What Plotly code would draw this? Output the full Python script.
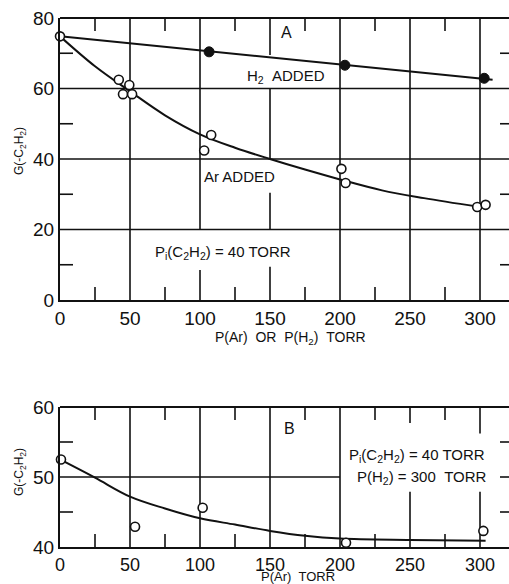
import plotly.graph_objects as go

# ---- Panel A: G(-C2H2) vs added gas pressure, P_i(C2H2) = 40 torr ----
ar_p = [0, 42, 45, 49.5, 51.5, 103, 108, 201, 204, 298, 304]
ar_g = [74.8, 62.5, 58.4, 61.0, 58.4, 42.4, 46.8, 37.2, 33.2, 26.4, 27.0]

h2_p = [106.5, 203.5, 303]
h2_g = [70.4, 66.6, 62.9]

# hand-drawn smooth curve through the Ar points
ar_fit_p = [0, 25, 50, 75, 100, 125, 150, 175, 200, 230, 260, 298]
ar_fit_g = [74.8, 66.3, 59.2, 52.4, 47.0, 43.2, 40.0, 37.0, 34.2, 31.1, 28.9, 26.5]

# straight line through the H2 points
h2_fit_p = [0, 309]
h2_fit_g = [74.8, 62.5]

# ---- Panel B: G(-C2H2) vs P(Ar) with P(H2) = 300 torr ----
b_p = [0.7, 53.6, 101.9, 204.3, 302.4]
b_g = [52.5, 42.9, 45.6, 40.6, 42.3]

b_fit_p = [0, 25, 50, 75, 100, 125, 150, 175, 200, 250, 304]
b_fit_g = [52.5, 49.9, 47.2, 45.5, 44.1, 43.2, 42.3, 41.6, 41.2, 41.0, 40.9]

x_ticks = [0, 50, 100, 150, 200, 250, 300]
a_y_ticks = [0, 20, 40, 60, 80]
b_y_ticks = [40, 50, 60]

W, H = 509, 584
INK = "#111111"
FONT = "Liberation Sans, Arial, sans-serif"
X_RANGE = [0, (W - 60) / 1.4]


def px(p):
    return p / W


def py(p):
    return 1 - p / H


fig = go.Figure()

open_marker = dict(symbol="circle", size=9, color="white", line=dict(color=INK, width=1.6))
solid_marker = dict(symbol="circle", size=10, color=INK, line=dict(color=INK, width=1))

fig.add_trace(go.Scatter(x=ar_fit_p, y=ar_fit_g, mode="lines", line=dict(color=INK, width=2, shape="spline"),
                         xaxis="x", yaxis="y", hoverinfo="skip"))
fig.add_trace(go.Scatter(x=h2_fit_p, y=h2_fit_g, mode="lines", line=dict(color=INK, width=2),
                         xaxis="x", yaxis="y", hoverinfo="skip"))
fig.add_trace(go.Scatter(x=ar_p, y=ar_g, mode="markers", marker=open_marker, cliponaxis=False,
                         xaxis="x", yaxis="y"))
fig.add_trace(go.Scatter(x=h2_p, y=h2_g, mode="markers", marker=solid_marker, cliponaxis=False,
                         xaxis="x", yaxis="y"))

fig.add_trace(go.Scatter(x=b_fit_p, y=b_fit_g, mode="lines", line=dict(color=INK, width=2, shape="spline"),
                         xaxis="x2", yaxis="y2", hoverinfo="skip"))
fig.add_trace(go.Scatter(x=b_p, y=b_g, mode="markers", marker=open_marker, cliponaxis=False,
                         xaxis="x2", yaxis="y2"))

shapes = []


def seg(xa, ya, x0, x1, y0, y1, w=1.6):
    shapes.append(dict(type="line", xref=xa, yref=ya, x0=x0, x1=x1, y0=y0, y1=y1,
                       layer="below", line=dict(color=INK, width=w)))


def vtick(xa, ya, x, top, length=13):
    shapes.append(dict(type="line", xref=xa, yref=ya + " domain", ysizemode="pixel",
                       yanchor=1 if top else 0, x0=x, x1=x,
                       y0=0, y1=-length if top else length,
                       layer="below", line=dict(color=INK, width=1.6)))


def htick(xa, ya, y, right, length=13):
    shapes.append(dict(type="line", xref=xa + " domain", yref=ya, xsizemode="pixel",
                       xanchor=1 if right else 0, y0=y, y1=y,
                       x0=0, x1=-9 if right else length,
                       layer="below", line=dict(color=INK, width=1.6)))


def frame_top(xa, ya):
    shapes.append(dict(type="line", xref=xa + " domain", yref=ya + " domain", x0=0, x1=1, y0=1, y1=1,
                       line=dict(color=INK, width=2)))


# panel A grid (broken where the labels sit)
for gx in [50, 200, 250, 300]:
    seg("x", "y", gx, gx, 0, 80)
for y0, y1 in [(20, 80), (0, 8.5)]:
    seg("x", "y", 100, 100, y0, y1)
for y0, y1 in [(69.5, 80), (40, 60), (20, 30.4), (0, 9.4)]:
    seg("x", "y", 150, 150, y0, y1)
for gy in [20, 40, 60]:
    seg("x", "y", 0, X_RANGE[1], gy, gy)
for t in [25, 75, 125, 175, 225, 275]:
    vtick("x", "y", t, top=False)
    vtick("x", "y", t, top=True)
for t in [10, 30, 50, 70]:
    htick("x", "y", t, right=False)
    htick("x", "y", t, right=True)
frame_top("x", "y")

# panel B grid
for gx in [50, 100, 150, 200]:
    seg("x2", "y2", gx, gx, 40, 60)
for y0, y1 in [(57.7, 60), (40, 47.9)]:
    seg("x2", "y2", 250, 250, y0, y1)
for y0, y1 in [(56.2, 60), (40, 47.9)]:
    seg("x2", "y2", 300, 300, y0, y1)
seg("x2", "y2", 0, 200, 50, 50)
for t in [25, 75, 125, 175, 225, 275]:
    vtick("x2", "y2", t, top=False)
    vtick("x2", "y2", t, top=True)
for t in [45, 55]:
    htick("x2", "y2", t, right=False)
for t in [45, 50, 55]:
    htick("x2", "y2", t, right=True)
frame_top("x2", "y2")

tickfont = dict(family=FONT, size=19, color=INK)
axis_common = dict(showgrid=False, zeroline=False, showline=True, linecolor=INK, linewidth=2,
                   ticks="", tickfont=tickfont, fixedrange=True, automargin=False)
axis_b_x = dict(axis_common, tickfont=dict(family=FONT, size=18, color=INK))

fig.update_layout(
    width=W, height=H,
    margin=dict(l=0, r=0, t=0, b=0, pad=0, autoexpand=False),
    paper_bgcolor="white", plot_bgcolor="white",
    showlegend=False,
    font=dict(family=FONT, color=INK),
    xaxis=dict(domain=[px(60), 1], range=X_RANGE, anchor="y", tickvals=x_ticks, **axis_common),
    yaxis=dict(domain=[py(300), py(18)], range=[0, 80], anchor="x", tickvals=a_y_ticks, **axis_common),
    xaxis2=dict(domain=[px(60), 1], range=X_RANGE, anchor="y2", tickvals=x_ticks, **axis_b_x),
    yaxis2=dict(domain=[py(547), py(407)], range=[40, 60], anchor="x2", tickvals=b_y_ticks, **axis_common),
    shapes=shapes,
)

NB = "\u00a0"
label_font = dict(family=FONT, size=15, color=INK)
title_font = dict(family=FONT, size=14, color=INK)
ytitle_font = dict(family=FONT, size=12, color=INK)
annotations = [
    dict(text="A", x=162, y=75.8, xref="x", yref="y", font=dict(family=FONT, size=16, color=INK)),
    dict(text=f"H<sub>2</sub>{NB}{NB}ADDED", x=161.4, y=63.3, xref="x", yref="y", font=label_font),
    dict(text="Ar ADDED", x=128.2, y=35.0, xref="x", yref="y", font=label_font),
    dict(text="P<sub>i</sub>(C<sub>2</sub>H<sub>2</sub>) = 40 TORR", x=116.5, y=13.6,
         xref="x", yref="y", font=label_font),
    dict(text=f"P(Ar){NB}{NB}OR{NB}{NB}P(H<sub>2</sub>){NB}{NB}TORR", x=px(290), y=py(338),
         xref="paper", yref="paper", font=title_font),
    dict(text="G(-C<sub>2</sub>H<sub>2</sub>)", x=px(20), y=py(151), xref="paper", yref="paper",
         textangle=-90, font=ytitle_font),
    dict(text="B", x=163.6, y=57.0, xref="x2", yref="y2", font=dict(family=FONT, size=16, color=INK)),
    dict(text="P<sub>i</sub>(C<sub>2</sub>H<sub>2</sub>) = 40 TORR", x=255, y=53.1,
         xref="x2", yref="y2", font=label_font),
    dict(text=f"P(H<sub>2</sub>) = 300{NB}{NB}TORR", x=258.5, y=50.0,
         xref="x2", yref="y2", font=label_font),
    dict(text=f"P(Ar){NB}{NB}TORR", x=px(298), y=py(576.5), xref="paper", yref="paper",
         font=dict(family=FONT, size=13, color=INK)),
    dict(text="G(-C<sub>2</sub>H<sub>2</sub>)", x=px(20), y=py(472), xref="paper", yref="paper",
         textangle=-90, font=ytitle_font),
]
for a in annotations:
    a.update(showarrow=False, xanchor="center", yanchor="middle")
fig.update_layout(annotations=annotations)

fig.write_html("out.html", config={"displayModeBar": False})
